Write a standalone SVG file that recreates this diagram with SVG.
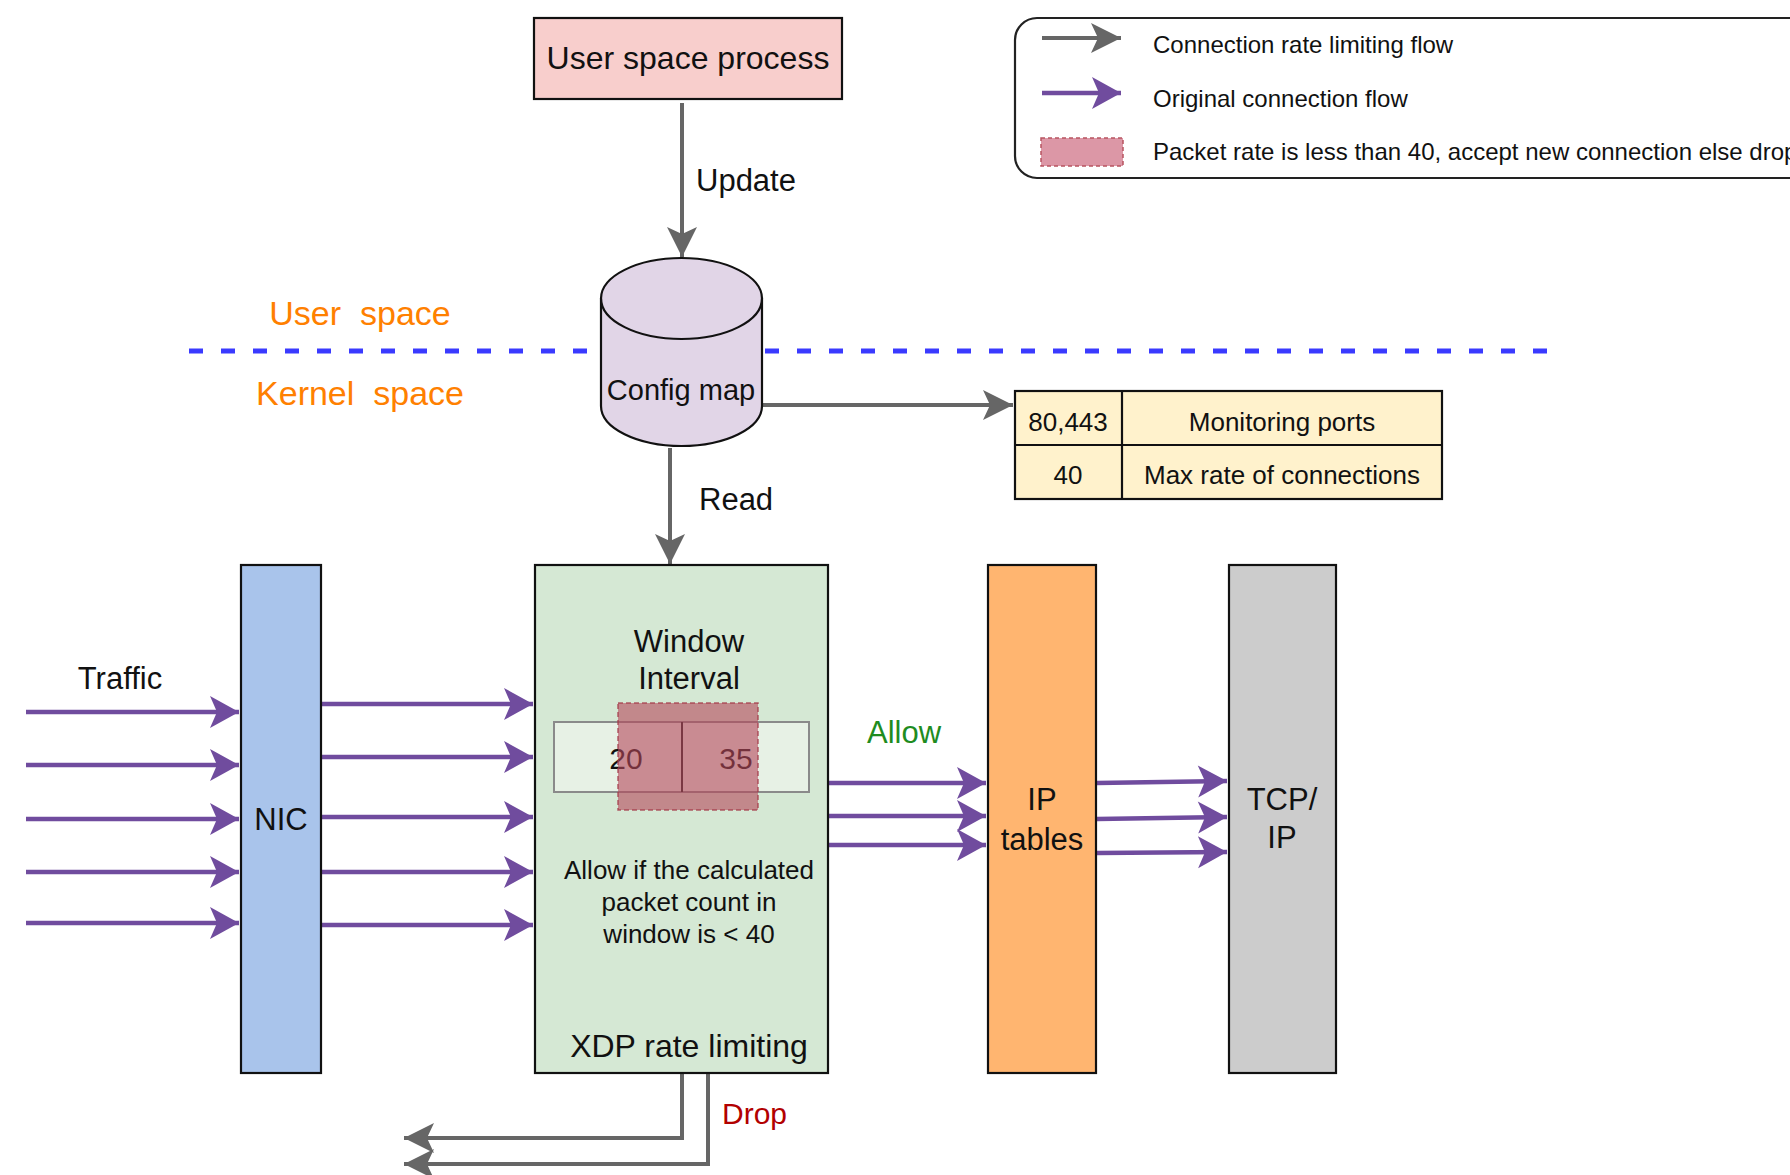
<svg xmlns="http://www.w3.org/2000/svg" width="1790" height="1175" viewBox="0 0 1790 1175">
<style>
text{font-family:"Liberation Sans",Arial,Helvetica,sans-serif;fill:#111;dominant-baseline:central}
.c{text-anchor:middle}
.box{stroke:#111;stroke-width:2.2}
.g{stroke:#666;stroke-width:4;fill:none}
.p{stroke:#704c9e;stroke-width:4.5;fill:none}
.f31{font-size:31px}
.orange{fill:#ff8000;font-size:34px}
</style>
<defs>
<marker id="ag" markerUnits="userSpaceOnUse" markerWidth="34" markerHeight="34" viewBox="0 0 34 34" refX="32" refY="17" orient="auto">
<path d="M2,2 L32,17 L2,32 L9,17 Z" fill="#666"/>
</marker>
<marker id="ap" markerUnits="userSpaceOnUse" markerWidth="34" markerHeight="36" viewBox="0 0 34 36" refX="32" refY="18" orient="auto">
<path d="M3,2 L32,18 L3,34 L10,18 Z" fill="#704c9e"/>
</marker>
</defs>
<rect width="1790" height="1175" fill="#fff"/>

<g id="divider">
<line x1="189" y1="351" x2="1550" y2="351" stroke="#3a3aff" stroke-width="5" stroke-dasharray="14 18"/>
<text class="c orange" x="360" y="313" xml:space="preserve">User  space</text>
<text class="c orange" x="360" y="393" xml:space="preserve">Kernel  space</text>
</g>

<g id="connectors">
<line class="g" x1="682" y1="103" x2="682" y2="257" marker-end="url(#ag)"/>
<line class="g" x1="762" y1="405" x2="1013" y2="405" marker-end="url(#ag)"/>
<line class="g" x1="670" y1="448" x2="670" y2="564" marker-end="url(#ag)"/>
<path class="g" d="M682,1073 V1138 H404" marker-end="url(#ag)"/>
<path class="g" d="M708,1073 V1164 H404" marker-end="url(#ag)"/>
<line class="p" x1="26" y1="712" x2="239" y2="712" marker-end="url(#ap)"/>
<line class="p" x1="26" y1="765" x2="239" y2="765" marker-end="url(#ap)"/>
<line class="p" x1="26" y1="819" x2="239" y2="819" marker-end="url(#ap)"/>
<line class="p" x1="26" y1="872" x2="239" y2="872" marker-end="url(#ap)"/>
<line class="p" x1="26" y1="923" x2="239" y2="923" marker-end="url(#ap)"/>
<line class="p" x1="322" y1="704" x2="533" y2="704" marker-end="url(#ap)"/>
<line class="p" x1="322" y1="757" x2="533" y2="757" marker-end="url(#ap)"/>
<line class="p" x1="322" y1="817" x2="533" y2="817" marker-end="url(#ap)"/>
<line class="p" x1="322" y1="872" x2="533" y2="872" marker-end="url(#ap)"/>
<line class="p" x1="322" y1="925" x2="533" y2="925" marker-end="url(#ap)"/>
<line class="p" x1="829" y1="783" x2="986" y2="783" marker-end="url(#ap)"/>
<line class="p" x1="829" y1="816" x2="986" y2="816" marker-end="url(#ap)"/>
<line class="p" x1="829" y1="845" x2="986" y2="845" marker-end="url(#ap)"/>
<line class="p" x1="1097" y1="783" x2="1227" y2="781" marker-end="url(#ap)"/>
<line class="p" x1="1097" y1="819" x2="1227" y2="817" marker-end="url(#ap)"/>
<line class="p" x1="1097" y1="853" x2="1227" y2="852" marker-end="url(#ap)"/>
<text class="f31" x="696" y="180">Update</text>
<text class="f31" x="699" y="499">Read</text>
<text class="f31" x="867" y="732" style="fill:#1f8c1f">Allow</text>
<text x="722" y="1113" style="fill:#b20000;font-size:30px">Drop</text>
<text class="c f31" x="120" y="678">Traffic</text>
</g>

<g id="user-space-process">
<rect class="box" x="534" y="18" width="308" height="81" fill="#f8cecc"/>
<text class="c" x="688" y="58" style="font-size:32px">User space process</text>
</g>

<g id="config-map">
<path class="box" d="M601,298.5 V406 A80.5,40 0 0 0 762,406 V298.5 A80.5,40.5 0 0 0 601,298.5 Z" fill="#e1d5e7"/>
<path class="box" d="M601,298.5 A80.5,40.5 0 0 0 762,298.5" fill="none"/>
<text class="c" x="681" y="390" style="font-size:29px">Config map</text>
</g>

<g id="config-table">
<rect class="box" x="1015" y="391" width="427" height="108" fill="#fff2cc"/>
<line class="box" x1="1015" y1="445" x2="1442" y2="445"/>
<line class="box" x1="1122" y1="391" x2="1122" y2="499"/>
<text class="c" x="1068" y="422" style="font-size:26px">80,443</text>
<text class="c" x="1282" y="422" style="font-size:26px">Monitoring ports</text>
<text class="c" x="1068" y="475" style="font-size:26px">40</text>
<text class="c" x="1282" y="475" style="font-size:26px">Max rate of connections</text>
</g>

<g id="legend">
<rect x="1015" y="18" width="820" height="160" rx="22" ry="22" fill="#fff" stroke="#222" stroke-width="2.2"/>
<line class="g" x1="1042" y1="38" x2="1121" y2="38" marker-end="url(#ag)"/>
<line class="p" x1="1042" y1="93" x2="1121" y2="93" marker-end="url(#ap)"/>
<rect x="1041" y="138" width="82" height="28" fill="#dc97a6" stroke="#b85460" stroke-width="1.5" stroke-dasharray="4 3"/>
<text x="1153" y="44" style="font-size:24px">Connection rate limiting flow</text>
<text x="1153" y="98" style="font-size:24px">Original connection flow</text>
<text x="1153" y="151" style="font-size:24px">Packet rate is less than 40, accept new connection else drop</text>
</g>

<g id="nic">
<rect class="box" x="241" y="565" width="80" height="508" fill="#a9c4eb"/>
<text class="c f31" x="281" y="819">NIC</text>
</g>

<g id="xdp">
<rect class="box" x="535" y="565" width="293" height="508" fill="#d5e8d4"/>
<text class="c f31" x="689" y="641">Window</text>
<text class="c f31" x="689" y="678">Interval</text>
<rect x="554" y="722" width="255" height="70" fill="#e7f1e5" stroke="#8a8a8a" stroke-width="2"/>
<line x1="682" y1="722" x2="682" y2="792" stroke="#222" stroke-width="2"/>
<text class="c" x="626" y="758" style="font-size:30px">20</text>
<text class="c" x="736" y="758" style="font-size:30px">35</text>
<rect x="618" y="703" width="140" height="107" fill="#b5485a" fill-opacity="0.6" stroke="#a33a48" stroke-opacity="0.8" stroke-width="1.5" stroke-dasharray="5 3"/>
<text class="c" x="689" y="870" style="font-size:26px">Allow if the calculated</text>
<text class="c" x="689" y="902" style="font-size:26px">packet count in</text>
<text class="c" x="689" y="934" style="font-size:26px">window is &lt; 40</text>
<text class="c" x="689" y="1046" style="font-size:32px">XDP rate limiting</text>
</g>

<g id="ip-tables">
<rect class="box" x="988" y="565" width="108" height="508" fill="#ffb570"/>
<text class="c f31" x="1042" y="799">IP</text>
<text class="c f31" x="1042" y="839">tables</text>
</g>

<g id="tcp-ip">
<rect class="box" x="1229" y="565" width="107" height="508" fill="#cccccc"/>
<text class="c f31" x="1282" y="799">TCP/</text>
<text class="c f31" x="1282" y="837">IP</text>
</g>
</svg>
